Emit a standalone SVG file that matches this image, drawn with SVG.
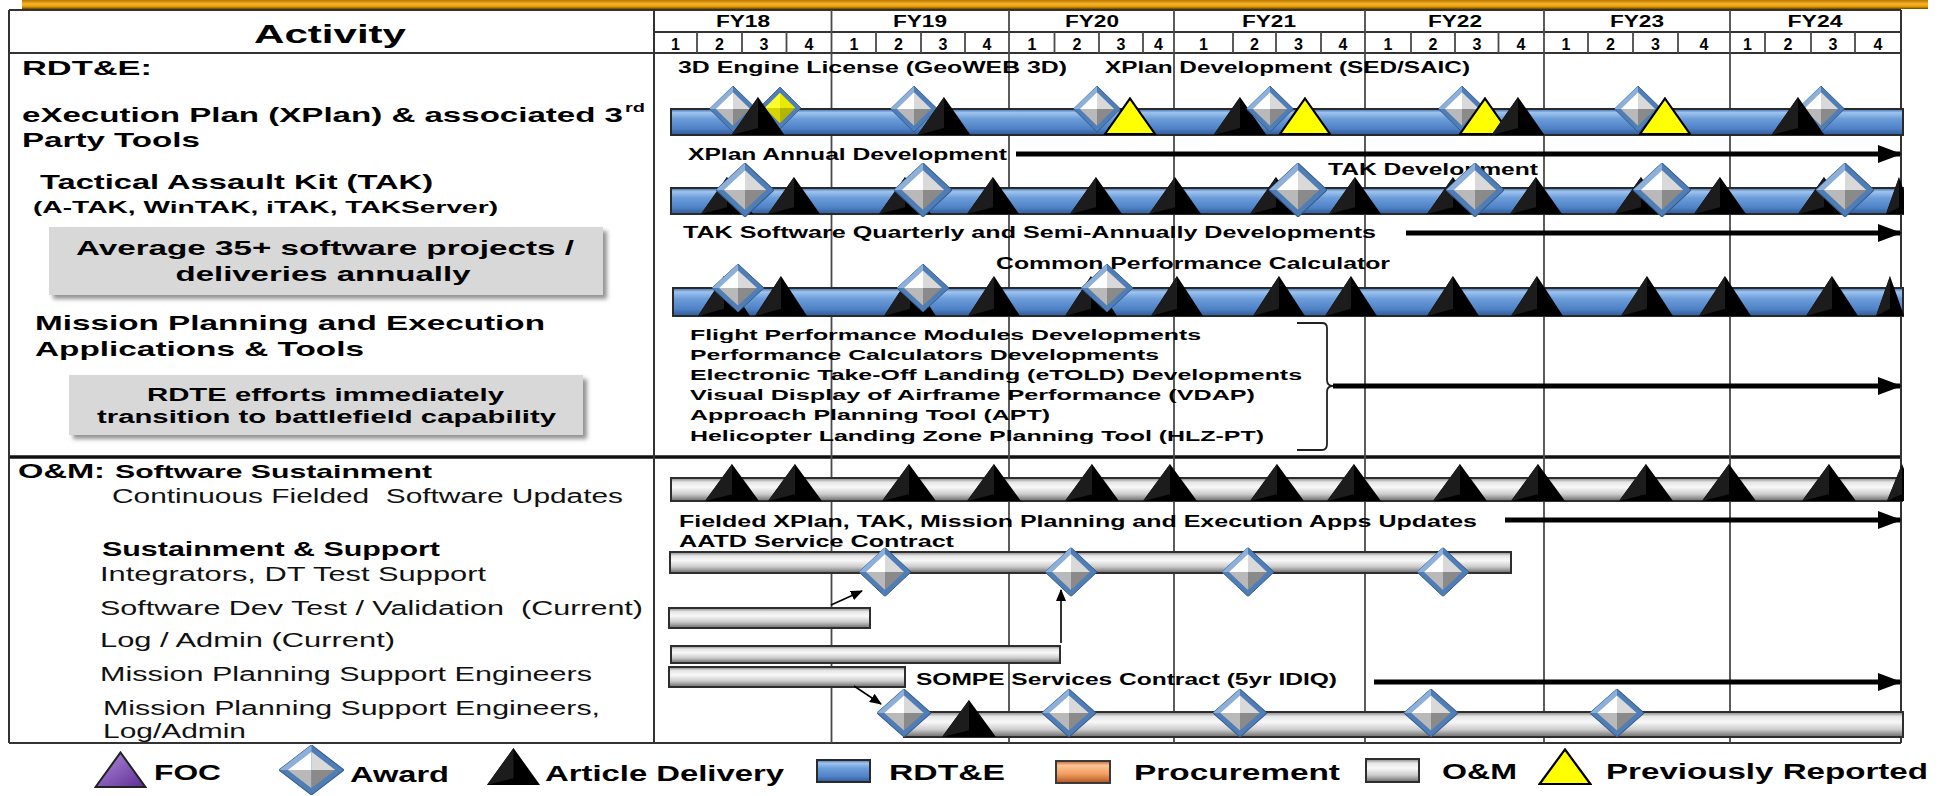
<svg xmlns="http://www.w3.org/2000/svg" width="1944" height="796" viewBox="0 0 1944 796">
<style>
  .b { font-family: "Liberation Sans", Arial, sans-serif; font-weight: bold; fill: #000; }
  .r { font-family: "Liberation Sans", Arial, sans-serif; fill: #111; white-space: pre; }
  .grid { stroke: #4a4a4a; stroke-width: 1.8; fill: none; }
  .frame { stroke: #333; stroke-width: 2; fill: none; }
  .bluebar { fill: url(#gBlue); stroke: #2a2a2a; stroke-width: 2; }
  .graybar { fill: url(#gGray); stroke: #2e2e2e; stroke-width: 2; }
  .arrow { stroke: #000; stroke-width: 5; fill: none; marker-end: url(#head); }
  .thin { stroke: #000; stroke-width: 1.6; fill: none; marker-end: url(#headSmall); }
  .note { fill: #d8d8d8; filter: url(#shadow); }
</style>
<defs>
  <linearGradient id="gTop" x1="0" y1="0" x2="0" y2="1">
    <stop offset="0" stop-color="#b97600"/>
    <stop offset="0.45" stop-color="#f8b62c"/>
    <stop offset="0.75" stop-color="#e59700"/>
    <stop offset="1" stop-color="#6e4300"/>
  </linearGradient>
  <linearGradient id="gBlue" x1="0" y1="0" x2="0" y2="1">
    <stop offset="0" stop-color="#3d69a8"/>
    <stop offset="0.14" stop-color="#9fc4ef"/>
    <stop offset="0.38" stop-color="#6c9dda"/>
    <stop offset="0.75" stop-color="#4f82c6"/>
    <stop offset="1" stop-color="#2f5a98"/>
  </linearGradient>
  <linearGradient id="gGray" x1="0" y1="0" x2="0" y2="1">
    <stop offset="0" stop-color="#808080"/>
    <stop offset="0.18" stop-color="#e6e6e6"/>
    <stop offset="0.4" stop-color="#f8f8f8"/>
    <stop offset="0.7" stop-color="#cccccc"/>
    <stop offset="1" stop-color="#6a6a6a"/>
  </linearGradient>
  <linearGradient id="gOrange" x1="0" y1="0" x2="0" y2="1">
    <stop offset="0" stop-color="#c4622a"/>
    <stop offset="0.2" stop-color="#fcc497"/>
    <stop offset="0.6" stop-color="#f29d60"/>
    <stop offset="1" stop-color="#b0561f"/>
  </linearGradient>
  <linearGradient id="gPurple" x1="0" y1="0" x2="1" y2="1">
    <stop offset="0" stop-color="#b48de0"/>
    <stop offset="1" stop-color="#5b2d92"/>
  </linearGradient>
  <filter id="shadow" x="-5%" y="-10%" width="115%" height="130%">
    <feDropShadow dx="4" dy="4" stdDeviation="2" flood-color="#777" flood-opacity="0.8"/>
  </filter>
  <marker id="head" markerUnits="userSpaceOnUse" markerWidth="24" markerHeight="18" refX="22" refY="9" orient="auto">
    <path d="M0,0 L24,9 L0,18 Z" fill="#000"/>
  </marker>
  <marker id="headSmall" markerUnits="userSpaceOnUse" markerWidth="12" markerHeight="10" refX="11" refY="5" orient="auto">
    <path d="M0,0 L12,5 L0,10 Z" fill="#000"/>
  </marker>
  <!-- award milestone: bevelled diamond with steel-blue rim -->
  <symbol id="dia" viewBox="-26 -26 52 52" preserveAspectRatio="none">
    <polygon points="0,-26 26,0 0,26 -26,0" fill="#4f7db5" stroke="#34598a" stroke-width="1"/>
    <polygon points="0,-26 -26,0 -19,0 0,-19" fill="#8db0da"/>
    <polygon points="0,-19 -19,0 0,0" fill="#ffffff"/>
    <polygon points="0,-19 19,0 0,0" fill="#d9d9d9"/>
    <polygon points="-19,0 0,19 0,0" fill="#b9b9b9"/>
    <polygon points="19,0 0,19 0,0" fill="#8a8a8a"/>
  </symbol>
  <symbol id="diaY" viewBox="-26 -26 52 52" preserveAspectRatio="none">
    <polygon points="0,-26 26,0 0,26 -26,0" fill="#4f7db5" stroke="#34598a" stroke-width="1"/>
    <polygon points="0,-19 -19,0 0,0" fill="#ffff30"/>
    <polygon points="0,-19 19,0 0,0" fill="#eaea00"/>
    <polygon points="-19,0 0,19 0,0" fill="#d6d600"/>
    <polygon points="19,0 0,19 0,0" fill="#b5b500"/>
  </symbol>
  <!-- article delivery: black pyramid -->
  <symbol id="tri" viewBox="0 0 52 38" preserveAspectRatio="none">
    <polygon points="26,0 52,38 0,38" fill="#000"/>
    <polygon points="26,0 26,31 0,38" fill="#1c1c1c"/>
  </symbol>
  <symbol id="triY" viewBox="0 0 52 38" preserveAspectRatio="none">
    <polygon points="26,1.5 50.5,37 1.5,37" fill="#ffff00" stroke="#000" stroke-width="2.2"/>
  </symbol>
  <symbol id="triP" viewBox="0 0 52 38" preserveAspectRatio="none">
    <polygon points="26,1.5 50.5,37 1.5,37" fill="url(#gPurple)" stroke="#222" stroke-width="2"/>
  </symbol>
  <clipPath id="tl">
    <rect x="654" y="53" width="1250" height="690"/>
  </clipPath>
</defs>

<rect width="1944" height="796" fill="#fff"/>

<!-- banner strip along the top edge -->
<rect x="22" y="0" width="1906" height="9" fill="url(#gTop)"/>

<!-- table frame and header grid -->
<g id="table">
  <line class="frame" x1="9" y1="10" x2="1901" y2="10"/>
  <line class="frame" x1="654" y1="32" x2="1901" y2="32"/>
  <line class="frame" x1="9" y1="53" x2="1901" y2="53"/>
  <line x1="9" y1="457" x2="1901" y2="457" stroke="#111" stroke-width="3.5"/>
  <line class="frame" x1="9" y1="743" x2="1901" y2="743"/>
  <line class="frame" x1="9" y1="10" x2="9" y2="743"/>
  <line class="frame" x1="654" y1="10" x2="654" y2="743"/>
  <line class="frame" x1="1901" y1="10" x2="1901" y2="743"/>
  <g class="grid">
    <line x1="831.5" y1="10" x2="831.5" y2="743"/>
    <line x1="1009" y1="10" x2="1009" y2="743"/>
    <line x1="1174" y1="10" x2="1174" y2="743"/>
    <line x1="1365" y1="10" x2="1365" y2="743"/>
    <line x1="1544" y1="10" x2="1544" y2="743"/>
    <line x1="1730" y1="10" x2="1730" y2="743"/>
  </g>
  <path class="grid" d="M697,32V53 M742,32V53 M786.5,32V53 M876,32V53 M921,32V53 M965,32V53 M1054.5,32V53 M1099,32V53 M1143,32V53 M1233,32V53 M1276,32V53 M1321,32V53 M1411,32V53 M1455,32V53 M1498.5,32V53 M1588,32V53 M1633,32V53 M1678,32V53 M1765,32V53 M1811,32V53 M1855,32V53"/>
  <text class="b" x="330" y="43" font-size="26" text-anchor="middle" textLength="152" lengthAdjust="spacingAndGlyphs">Activity</text>
  <g class="b" font-size="16" text-anchor="middle">
    <text x="743" y="27" textLength="54" lengthAdjust="spacingAndGlyphs">FY18</text>
    <text x="920" y="27" textLength="54" lengthAdjust="spacingAndGlyphs">FY19</text>
    <text x="1092" y="27" textLength="54" lengthAdjust="spacingAndGlyphs">FY20</text>
    <text x="1269" y="27" textLength="54" lengthAdjust="spacingAndGlyphs">FY21</text>
    <text x="1455" y="27" textLength="54" lengthAdjust="spacingAndGlyphs">FY22</text>
    <text x="1637" y="27" textLength="54" lengthAdjust="spacingAndGlyphs">FY23</text>
    <text x="1815" y="27" textLength="55" lengthAdjust="spacingAndGlyphs">FY24</text>
  </g>
  <g class="b" font-size="16" text-anchor="middle">
    <text x="675.5" y="50">1</text><text x="719.5" y="50">2</text><text x="764" y="50">3</text><text x="809" y="50">4</text>
    <text x="854" y="50">1</text><text x="898.5" y="50">2</text><text x="943" y="50">3</text><text x="987" y="50">4</text>
    <text x="1032" y="50">1</text><text x="1077" y="50">2</text><text x="1121" y="50">3</text><text x="1158.5" y="50">4</text>
    <text x="1203.5" y="50">1</text><text x="1254.5" y="50">2</text><text x="1298.5" y="50">3</text><text x="1343" y="50">4</text>
    <text x="1388" y="50">1</text><text x="1433" y="50">2</text><text x="1477" y="50">3</text><text x="1521" y="50">4</text>
    <text x="1566" y="50">1</text><text x="1610.5" y="50">2</text><text x="1655.5" y="50">3</text><text x="1704" y="50">4</text>
    <text x="1747.5" y="50">1</text><text x="1788" y="50">2</text><text x="1833" y="50">3</text><text x="1878" y="50">4</text>
  </g>
</g>

<!-- activity column labels -->
<g id="rdte-label">
  <text class="b" x="22" y="75" font-size="21" textLength="130" lengthAdjust="spacingAndGlyphs">RDT&amp;E:</text>
</g>
<g id="xplan-label">
  <text class="b" x="22" y="122" font-size="21" textLength="601" lengthAdjust="spacingAndGlyphs">eXecution Plan (XPlan) &amp; associated 3</text>
  <text class="b" x="625" y="112" font-size="13" textLength="20" lengthAdjust="spacingAndGlyphs">rd</text>
  <text class="b" x="22" y="147" font-size="21" textLength="178" lengthAdjust="spacingAndGlyphs">Party Tools</text>
</g>
<g id="tak-label">
  <text class="b" x="40" y="189" font-size="21" textLength="393" lengthAdjust="spacingAndGlyphs">Tactical Assault Kit (TAK)</text>
  <text class="b" x="33" y="213" font-size="16" textLength="465" lengthAdjust="spacingAndGlyphs">(A-TAK, WinTAK, iTAK, TAKServer)</text>
</g>
<g id="note-projects">
  <rect class="note" x="49" y="227" width="554" height="68"/>
  <text class="b" x="325" y="255" font-size="21" text-anchor="middle" textLength="498" lengthAdjust="spacingAndGlyphs">Average 35+ software projects /</text>
  <text class="b" x="323" y="281" font-size="21" text-anchor="middle" textLength="295" lengthAdjust="spacingAndGlyphs">deliveries annually</text>
</g>
<g id="mission-label">
  <text class="b" x="35" y="330" font-size="21" textLength="510" lengthAdjust="spacingAndGlyphs">Mission Planning and Execution</text>
  <text class="b" x="35" y="356" font-size="21" textLength="329" lengthAdjust="spacingAndGlyphs">Applications &amp; Tools</text>
</g>
<g id="note-rdte">
  <rect class="note" x="69" y="375" width="514" height="60"/>
  <text class="b" x="325.5" y="401" font-size="18" text-anchor="middle" textLength="357" lengthAdjust="spacingAndGlyphs">RDTE efforts immediately</text>
  <text class="b" x="326.5" y="423" font-size="18" text-anchor="middle" textLength="459" lengthAdjust="spacingAndGlyphs">transition to battlefield capability</text>
</g>
<g id="om-label">
  <text class="b" x="18" y="478" font-size="20" textLength="87" lengthAdjust="spacingAndGlyphs">O&amp;M:</text>
  <text class="b" x="115" y="478" font-size="19" textLength="317" lengthAdjust="spacingAndGlyphs">Software Sustainment</text>
  <text class="r" x="112" y="503" font-size="20" textLength="511" lengthAdjust="spacingAndGlyphs">Continuous Fielded  Software Updates</text>
</g>
<g id="support-label">
  <text class="b" x="102" y="556" font-size="20" textLength="338" lengthAdjust="spacingAndGlyphs">Sustainment &amp; Support</text>
  <text class="r" x="100" y="581" font-size="20" textLength="386" lengthAdjust="spacingAndGlyphs">Integrators, DT Test Support</text>
  <text class="r" x="100" y="615" font-size="20" textLength="543" lengthAdjust="spacingAndGlyphs">Software Dev Test / Validation  (Current)</text>
  <text class="r" x="100" y="647" font-size="20" textLength="295" lengthAdjust="spacingAndGlyphs">Log / Admin (Current)</text>
  <text class="r" x="100" y="681" font-size="20" textLength="492" lengthAdjust="spacingAndGlyphs">Mission Planning Support Engineers</text>
  <text class="r" x="103" y="715" font-size="20" textLength="497" lengthAdjust="spacingAndGlyphs">Mission Planning Support Engineers,</text>
  <text class="r" x="103" y="738" font-size="20" textLength="143" lengthAdjust="spacingAndGlyphs">Log/Admin</text>
</g>

<!-- timeline rows -->
<g id="xplan-row">
  <text class="b" x="678" y="73" font-size="16" textLength="389" lengthAdjust="spacingAndGlyphs">3D Engine License (GeoWEB 3D)</text>
  <text class="b" x="1105" y="73" font-size="16" textLength="365" lengthAdjust="spacingAndGlyphs">XPlan Development (SED/SAIC)</text>
  <rect class="bluebar" x="671" y="109" width="1232" height="26"/>
  <use href="#dia" x="709.5" y="86" width="47" height="46"/>
  <use href="#diaY" x="759" y="87" width="42" height="42"/>
  <use href="#tri" x="731.5" y="97" width="53" height="38"/>
  <use href="#dia" x="890.5" y="86" width="47" height="46"/>
  <use href="#tri" x="917.5" y="97" width="53" height="38"/>
  <use href="#dia" x="1073.5" y="86" width="47" height="46"/>
  <use href="#triY" x="1103.5" y="97" width="53" height="38"/>
  <use href="#tri" x="1213.5" y="97" width="53" height="38"/>
  <use href="#dia" x="1246.5" y="86" width="47" height="46"/>
  <use href="#triY" x="1278.5" y="97" width="53" height="38"/>
  <use href="#dia" x="1438.5" y="86" width="47" height="46"/>
  <use href="#triY" x="1458.5" y="97" width="53" height="38"/>
  <use href="#tri" x="1491.5" y="97" width="53" height="38"/>
  <use href="#dia" x="1614.5" y="86" width="47" height="46"/>
  <use href="#triY" x="1638.5" y="97" width="53" height="38"/>
  <use href="#dia" x="1797.5" y="86" width="47" height="46"/>
  <use href="#tri" x="1771.5" y="97" width="53" height="38"/>
  <text class="b" x="688" y="160" font-size="16" textLength="319" lengthAdjust="spacingAndGlyphs">XPlan Annual Development</text>
</g>

<g id="tak-row" clip-path="url(#tl)">
  <text class="b" x="1328" y="175" font-size="16" textLength="210" lengthAdjust="spacingAndGlyphs">TAK Development</text>
  <rect class="bluebar" x="671" y="188" width="1232" height="26"/>
  <use href="#tri" x="701" y="177" width="52" height="37"/>
  <use href="#tri" x="879" y="177" width="52" height="37"/>
  <use href="#tri" x="1250" y="177" width="52" height="37"/>
  <use href="#tri" x="1427" y="177" width="52" height="37"/>
  <use href="#tri" x="1615" y="177" width="52" height="37"/>
  <use href="#tri" x="1798" y="177" width="52" height="37"/>
  <use href="#dia" x="716" y="163" width="58" height="54"/>
  <use href="#dia" x="894" y="163" width="58" height="54"/>
  <use href="#dia" x="1269" y="163" width="58" height="54"/>
  <use href="#dia" x="1446" y="163" width="58" height="54"/>
  <use href="#dia" x="1633" y="163" width="58" height="54"/>
  <use href="#dia" x="1816" y="163" width="58" height="54"/>
  <use href="#tri" x="768" y="177" width="52" height="37"/>
  <use href="#tri" x="967" y="177" width="52" height="37"/>
  <use href="#tri" x="1070" y="177" width="52" height="37"/>
  <use href="#tri" x="1149" y="177" width="52" height="37"/>
  <use href="#tri" x="1329" y="177" width="52" height="37"/>
  <use href="#tri" x="1510" y="177" width="52" height="37"/>
  <use href="#tri" x="1694" y="177" width="52" height="37"/>
  <use href="#tri" x="1886" y="177" width="26" height="37"/>
  <text class="b" x="683" y="238" font-size="16" textLength="693" lengthAdjust="spacingAndGlyphs">TAK Software Quarterly and Semi-Annually Developments</text>
</g>

<g id="mission-row" clip-path="url(#tl)">
  <text class="b" x="996" y="269" font-size="16" textLength="394" lengthAdjust="spacingAndGlyphs">Common Performance Calculator</text>
  <rect class="bluebar" x="673" y="288" width="1230" height="28"/>
  <use href="#tri" x="698" y="276" width="52" height="40"/>
  <use href="#tri" x="884" y="276" width="52" height="40"/>
  <use href="#tri" x="1065" y="276" width="52" height="40"/>
  <use href="#dia" x="712" y="264" width="52" height="48"/>
  <use href="#dia" x="897" y="264" width="52" height="48"/>
  <use href="#dia" x="1081" y="264" width="52" height="48"/>
  <use href="#tri" x="755" y="276" width="52" height="40"/>
  <use href="#tri" x="968" y="276" width="52" height="40"/>
  <use href="#tri" x="1151" y="276" width="52" height="40"/>
  <use href="#tri" x="1253" y="276" width="52" height="40"/>
  <use href="#tri" x="1325" y="276" width="52" height="40"/>
  <use href="#tri" x="1427" y="276" width="52" height="40"/>
  <use href="#tri" x="1511" y="276" width="52" height="40"/>
  <use href="#tri" x="1621" y="276" width="52" height="40"/>
  <use href="#tri" x="1699" y="276" width="52" height="40"/>
  <use href="#tri" x="1806" y="276" width="52" height="40"/>
  <use href="#tri" x="1876" y="276" width="28" height="40"/>
</g>

<g id="mission-tools">
  <g class="b" font-size="14">
    <text x="690" y="340" textLength="511" lengthAdjust="spacingAndGlyphs">Flight Performance Modules Developments</text>
    <text x="690" y="360" textLength="469" lengthAdjust="spacingAndGlyphs">Performance Calculators Developments</text>
    <text x="690" y="380" textLength="612" lengthAdjust="spacingAndGlyphs">Electronic Take-Off Landing (eTOLD) Developments</text>
    <text x="690" y="400" textLength="565" lengthAdjust="spacingAndGlyphs">Visual Display of Airframe Performance (VDAP)</text>
    <text x="690" y="420" textLength="360" lengthAdjust="spacingAndGlyphs">Approach Planning Tool (APT)</text>
    <text x="690" y="441" textLength="574" lengthAdjust="spacingAndGlyphs">Helicopter Landing Zone Planning Tool (HLZ-PT)</text>
  </g>
  <path d="M1297,323 H1322 Q1327,323 1327,328 V380 Q1327,386 1333,386 Q1327,386 1327,392 V444 Q1327,450 1322,450 H1297" fill="none" stroke="#222" stroke-width="1.8"/>
</g>

<g id="sustainment-row" clip-path="url(#tl)">
  <rect class="graybar" x="671" y="478" width="1231" height="23"/>
  <use href="#tri" x="705" y="464" width="54" height="37"/>
  <use href="#tri" x="768" y="464" width="54" height="37"/>
  <use href="#tri" x="882" y="464" width="54" height="37"/>
  <use href="#tri" x="967" y="464" width="54" height="37"/>
  <use href="#tri" x="1065" y="464" width="54" height="37"/>
  <use href="#tri" x="1143" y="464" width="54" height="37"/>
  <use href="#tri" x="1250" y="464" width="54" height="37"/>
  <use href="#tri" x="1327" y="464" width="54" height="37"/>
  <use href="#tri" x="1433" y="464" width="54" height="37"/>
  <use href="#tri" x="1511" y="464" width="54" height="37"/>
  <use href="#tri" x="1619" y="464" width="54" height="37"/>
  <use href="#tri" x="1702" y="464" width="54" height="37"/>
  <use href="#tri" x="1802" y="464" width="54" height="37"/>
  <use href="#tri" x="1887" y="464" width="30" height="37"/>
  <text class="b" x="679" y="527" font-size="16" textLength="798" lengthAdjust="spacingAndGlyphs">Fielded XPlan, TAK, Mission Planning and Execution Apps Updates</text>
</g>

<g id="aatd-row">
  <text class="b" x="679" y="547" font-size="16" textLength="275" lengthAdjust="spacingAndGlyphs">AATD Service Contract</text>
  <rect class="graybar" x="670" y="552" width="841" height="21"/>
  <use href="#dia" x="859" y="547.5" width="52" height="49"/>
  <use href="#dia" x="1045" y="547.5" width="52" height="49"/>
  <use href="#dia" x="1222" y="547.5" width="52" height="49"/>
  <use href="#dia" x="1417" y="547.5" width="52" height="49"/>
</g>

<g id="devtest-bar">
  <rect class="graybar" x="669" y="608" width="201" height="20"/>
</g>
<g id="logadmin-bar">
  <rect class="graybar" x="671" y="646" width="389" height="17"/>
</g>
<g id="mpse-bar">
  <rect class="graybar" x="669" y="667" width="236" height="20"/>
</g>

<g id="sompe-row">
  <text class="b" x="916" y="685" font-size="16" textLength="421" lengthAdjust="spacingAndGlyphs">SOMPE Services Contract (5yr IDIQ)</text>
  <rect class="graybar" x="904" y="712" width="999" height="25"/>
  <use href="#dia" x="877" y="689" width="54" height="48"/>
  <use href="#tri" x="942" y="700" width="54" height="37"/>
  <use href="#dia" x="1042" y="689" width="54" height="48"/>
  <use href="#dia" x="1213" y="689" width="54" height="48"/>
  <use href="#dia" x="1404" y="689" width="54" height="48"/>
  <use href="#dia" x="1590" y="689" width="54" height="48"/>
</g>

<!-- connectors -->
<g id="connectors">
  <line class="arrow" x1="1016" y1="154" x2="1900" y2="154"/>
  <line class="arrow" x1="1406" y1="233" x2="1900" y2="233"/>
  <line class="arrow" x1="1333" y1="386" x2="1900" y2="386"/>
  <line class="arrow" x1="1505" y1="520" x2="1900" y2="520"/>
  <line class="arrow" x1="1374" y1="682" x2="1900" y2="682"/>
  <line class="thin" x1="831" y1="605" x2="862" y2="591"/>
  <line class="thin" x1="1061" y1="643" x2="1061" y2="590"/>
  <line class="thin" x1="854" y1="686" x2="881" y2="704"/>
</g>

<!-- legend -->
<g id="legend">
  <use href="#triP" x="94" y="751" width="53" height="37"/>
  <text class="b" x="154" y="780" font-size="22" textLength="67" lengthAdjust="spacingAndGlyphs">FOC</text>
  <use href="#dia" x="279" y="745" width="65" height="50"/>
  <text class="b" x="350" y="782" font-size="22" textLength="99" lengthAdjust="spacingAndGlyphs">Award</text>
  <use href="#tri" x="487" y="748" width="53" height="37"/>
  <text class="b" x="545" y="781" font-size="22" textLength="239" lengthAdjust="spacingAndGlyphs">Article Delivery</text>
  <rect class="bluebar" x="817" y="760" width="53" height="22"/>
  <text class="b" x="889" y="780" font-size="22" textLength="116" lengthAdjust="spacingAndGlyphs">RDT&amp;E</text>
  <rect x="1056" y="761" width="54" height="22" fill="url(#gOrange)" stroke="#3a3a3a" stroke-width="2"/>
  <text class="b" x="1134" y="780" font-size="22" textLength="206" lengthAdjust="spacingAndGlyphs">Procurement</text>
  <rect class="graybar" x="1366" y="759" width="53" height="23"/>
  <text class="b" x="1442" y="779" font-size="22" textLength="75" lengthAdjust="spacingAndGlyphs">O&amp;M</text>
  <use href="#triY" x="1538" y="748" width="54" height="37"/>
  <text class="b" x="1606" y="779" font-size="22" textLength="322" lengthAdjust="spacingAndGlyphs">Previously Reported</text>
</g>
</svg>
